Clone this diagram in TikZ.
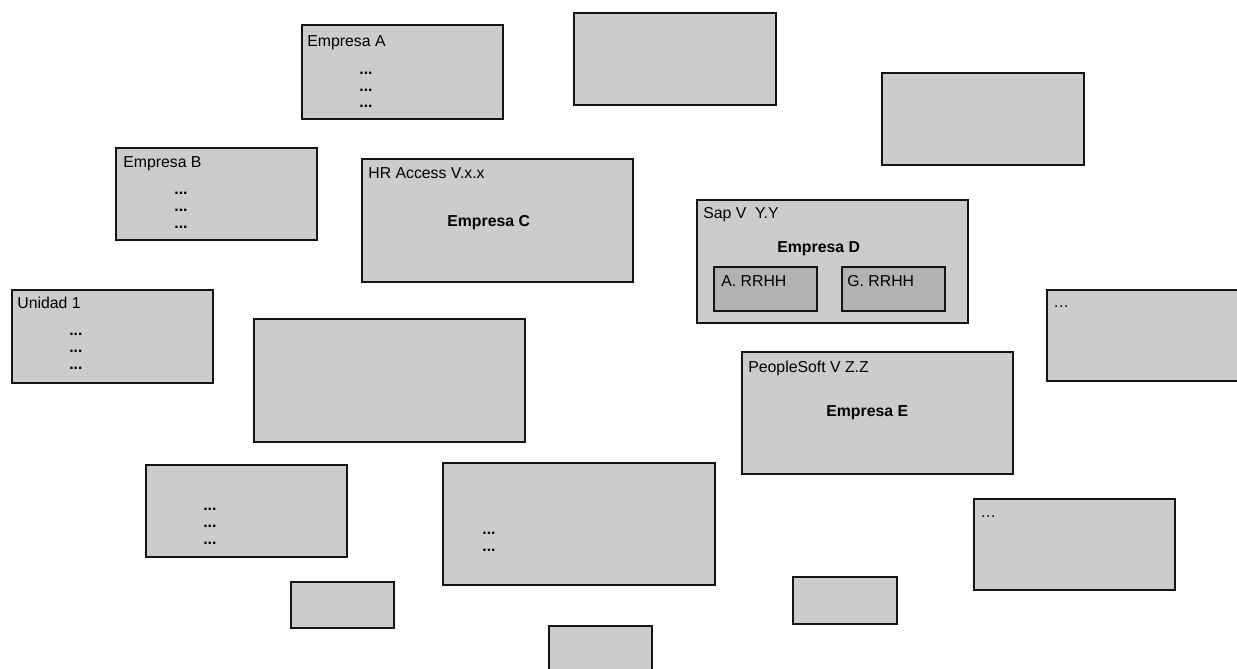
\documentclass[tikz,border=0pt]{standalone}
\usepackage{fontspec}
\setmainfont{Liberation Sans}
\usepackage{xcolor}
\usepackage{tikz}
\definecolor{CajaGris}{RGB}{204, 204, 204}
\definecolor{CajaOscura}{RGB}{178, 178, 178}
\definecolor{CajaBorde}{RGB}{20, 20, 20}

\tikzset{
  caja/.style={draw=CajaBorde, line width=0.8pt, fill=CajaGris, inner sep=0pt, outer sep=0pt, anchor=north west},
  cajaint/.style={caja, fill=CajaOscura},
  titulo/.style={anchor=base west, inner sep=0pt, font=\fontsize{9}{9.6}\selectfont},
  negrita/.style={titulo, font=\fontsize{9}{9.6}\selectfont\bfseries},
  % base = linea de abajo
  puntos/.style={anchor=base west, inner sep=0pt, align=left, font=\fontsize{9}{9.65}\selectfont\bfseries}
}

\begin{document}
\begin{tikzpicture}[x=0.02cm, y=-0.02cm]
    \useasboundingbox (0,0) rectangle (1237,669);

    % fila superior
    \node[caja, minimum width=4.02cm, minimum height=1.88cm] (empA) at (302,25) {};
    \node[titulo] (empAtit) at (307,47) {Empresa A};
    \node[puntos] (empApt) at (359,108) {...\\...\\...};

    \node[caja, minimum width=4.04cm, minimum height=1.84cm] (blancoSup) at (574,13) {};
    \node[caja, minimum width=4.04cm, minimum height=1.84cm] (blancoDer) at (882,73) {};

    \node[caja, minimum width=4.02cm, minimum height=1.84cm] (empB) at (116,148) {};
    \node[titulo] (empBtit) at (123,167) {Empresa B};
    \node[puntos] (empBpt) at (174,228) {...\\...\\...};

    % sistemas de RRHH
    \node[caja, minimum width=5.42cm, minimum height=2.46cm] (hrC) at (362,159) {};
    \node[titulo] (hrCtit) at (368,178) {HR Access V.x.x};
    \node[negrita] (hrCemp) at (447,226) {Empresa C};

    \node[caja, minimum width=5.42cm, minimum height=2.46cm] (sapD) at (697,200) {};
    \node[titulo] (sapDtit) at (703,218) {Sap V\ \ Y.Y};
    \node[negrita] (sapDemp) at (777,252) {Empresa D};
    \node[cajaint, minimum width=2.06cm, minimum height=0.88cm] (sapA) at (714,267) {};
    \node[titulo] (sapAtit) at (721,286) {A. RRHH};
    \node[cajaint, minimum width=2.06cm, minimum height=0.88cm] (sapG) at (842,267) {};
    \node[titulo] (sapGtit) at (847,286) {G. RRHH};

    \node[caja, minimum width=4.02cm, minimum height=1.86cm] (uni1) at (12,290) {};
    \node[titulo] (uni1tit) at (17,308) {Unidad 1};
    \node[puntos] (uni1pt) at (69,369) {...\\...\\...};

    \node[caja, minimum width=5.42cm, minimum height=2.46cm] (blancoMed) at (254,319) {};

    \node[caja, minimum width=4.2cm, minimum height=1.82cm] (otraDer) at (1047,290) {};
    \node[titulo] (otraDertit) at (1053,307) {…};

    \node[caja, minimum width=5.42cm, minimum height=2.44cm] (peopleE) at (742,352) {};
    \node[titulo] (peopleEtit) at (748,372) {PeopleSoft V Z.Z};
    \node[negrita] (peopleEemp) at (826,416) {Empresa E};

    % fila inferior
    \node[caja, minimum width=4.02cm, minimum height=1.84cm] (bloqueIzq) at (146,465) {};
    \node[puntos] (bloqueIzqpt) at (203,544) {...\\...\\...};

    \node[caja, minimum width=5.44cm, minimum height=2.44cm] (bloqueMed) at (443,463) {};
    \node[puntos] (bloqueMedpt) at (482,551) {...\\...};

    \node[caja, minimum width=4.02cm, minimum height=1.82cm] (otraInf) at (974,499) {};
    \node[titulo] (otraInftit) at (980,517) {…};

    \node[caja, minimum width=2.06cm, minimum height=0.92cm] (chica1) at (291,582) {};
    \node[caja, minimum width=2.08cm, minimum height=0.94cm] (chica2) at (793,577) {};
    \node[caja, minimum width=2.06cm, minimum height=1.0cm] (chica3) at (549,626) {};
  \end{tikzpicture}
\end{document}
